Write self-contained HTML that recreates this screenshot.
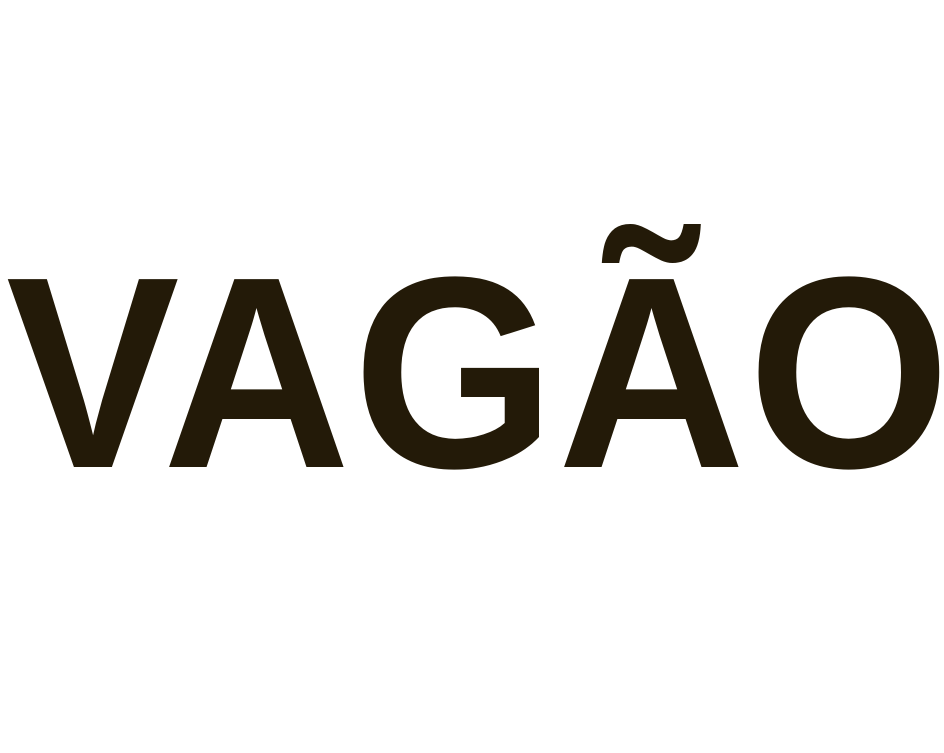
<!DOCTYPE html>
<html lang="pt">
<head>
<meta charset="utf-8">
<style>
  html, body { margin: 0; padding: 0; background: #ffffff; }
  body { width: 944px; height: 753px; position: relative; overflow: hidden; }
  .word {
    position: absolute;
    left: 6px;
    top: 248px;
    font-family: "Liberation Sans", Arial, sans-serif;
    font-weight: bold;
    font-size: 260px;
    line-height: 1;
    letter-spacing: 2.5px;
    color: #231a08;
    white-space: nowrap;
    transform: scaleY(1.05);
    transform-origin: 0 220px;
  }
</style>
</head>
<body>
  <div class="word">VAGÃO</div>
</body>
</html>
